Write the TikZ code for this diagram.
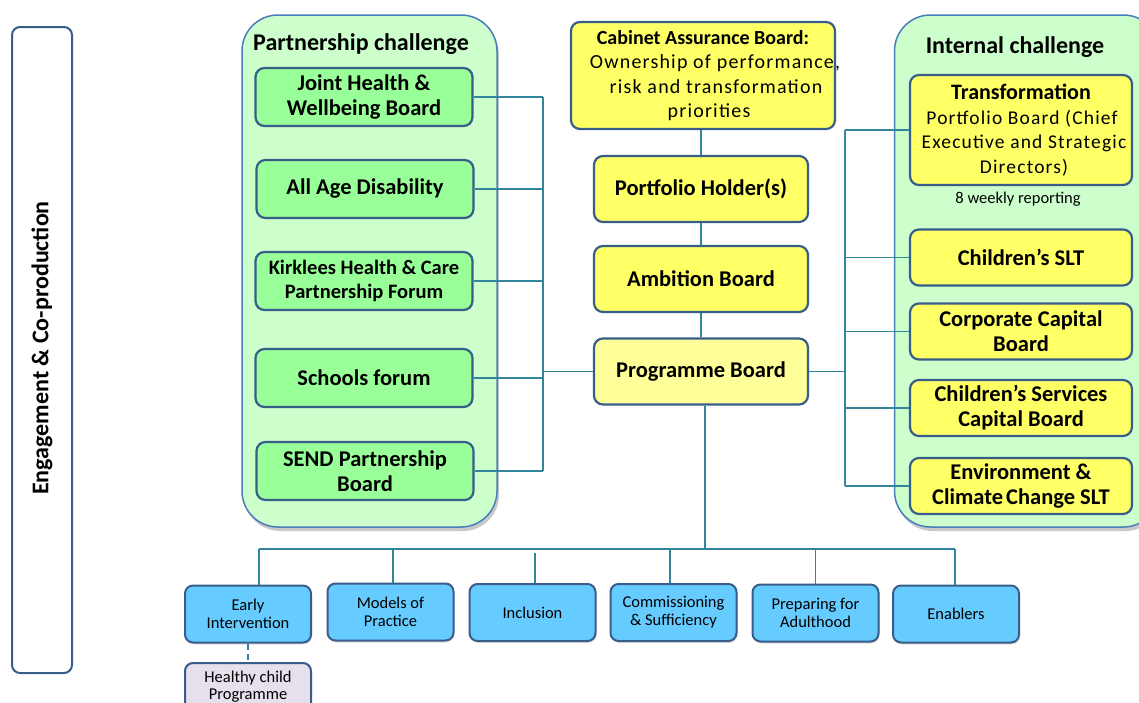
\documentclass[tikz,border=0pt]{standalone}
\usepackage{fontspec}
\setmainfont{Carlito}
\newfontfamily\spc[LetterSpace=6]{Carlito}
\newfontfamily\spcw[LetterSpace=6]{Carlito}
\newcommand\shiftline[2]{\makebox[200pt][c]{\hspace*{#1}#2}}
\usetikzlibrary{shadows}
\definecolor{conn}{RGB}{49,133,156}
\definecolor{bdr}{RGB}{56,93,138}
\definecolor{cbdr}{RGB}{74,126,187}
\definecolor{cfill}{RGB}{204,255,204}
\definecolor{gfill}{RGB}{153,255,153}
\definecolor{yfill}{RGB}{255,255,102}
\definecolor{pfill}{RGB}{255,255,153}
\definecolor{bfill}{RGB}{102,204,255}
\definecolor{lfill}{RGB}{229,224,236}
\tikzset{
  box/.style={draw=bdr, line width=2.2pt, rounded corners=9pt, align=center, inner sep=2pt},
  cont/.style={draw=cbdr, line width=1.5pt, fill=cfill, rounded corners=36pt,
    drop shadow={shadow xshift=2pt, shadow yshift=-4pt, opacity=0.3, fill=black!70}},
  ttl/.style={font=\bfseries\fontsize{24}{28}\selectfont},
  bigbold/.style={font=\bfseries\fontsize{22.5}{25}\selectfont},
  gbox/.style={box, fill=gfill, minimum width=217pt, minimum height=58pt, bigbold},
  ybox/.style={box, fill=yfill, minimum width=214pt, minimum height=66pt, bigbold},
  rbox/.style={box, fill=yfill, minimum width=222pt, minimum height=56pt, bigbold},
  bbox/.style={box, fill=bfill, minimum width=126pt, minimum height=57pt, line width=2pt, rounded corners=8pt,
    font=\fontsize{16.5}{18}\selectfont,
    drop shadow={shadow xshift=1pt, shadow yshift=-2pt, opacity=0.2, fill=black!60}},
  link/.style={draw=conn, line width=1.6pt},
}
\begin{document}
\begin{tikzpicture}[x=1pt,y=-1pt]
\useasboundingbox (0,0) rectangle (1139,702);
\clip (0,0) rectangle (1139,702);

% Engagement column
\node[draw=bdr, line width=2pt, rounded corners=8pt, minimum width=60pt, minimum height=646pt] (engbox) at (42,350) {};
\node[rotate=90, font=\bfseries\fontsize{24}{28}\selectfont] (engtxt) at (42,348) {Engagement \& Co-production};

% containers
\node[cont, minimum width=255pt, minimum height=512pt] (pcont) at (369.5,271) {};
\node[ttl] (ptitle) at (361,44) {Partnership challenge};
\node[cont, minimum width=265pt, minimum height=512pt] (icont) at (1027,271) {};
\node[ttl] (ititle) at (1015,47) {Internal challenge};

% partnership boxes
\node[gbox] (jhw) at (364,97) {Joint Health \&\\Wellbeing Board};
\node[gbox] (aad) at (365,189) {All Age Disability};
\node[gbox, font=\bfseries\fontsize{20.5}{24.5}\selectfont] (khc) at (364,281) {Kirklees Health \& Care\\Partnership Forum};
\node[gbox] (sf) at (364,378) {Schools forum};
\node[gbox] (send) at (365,471) {SEND Partnership\\Board};

% centre column
\node[box, fill=yfill, minimum width=264pt, minimum height=107pt, font=\fontsize{20}{24.2}\selectfont] (cab) at (703,75.5)
  {\textbf{Cabinet Assurance Board:}\\\shiftline{24pt}{\spc Ownership of performance,}\\\shiftline{26pt}{\spc risk and transformation}\\\shiftline{12pt}{\spc priorities}};
\node[ybox] (ph) at (701,189) {Portfolio Holder(s)};
\node[ybox] (amb) at (701,279) {Ambition Board};
\node[ybox, fill=pfill] (prog) at (701,371.5) {Programme Board};

% internal boxes
\node[rbox, minimum height=110pt, font=\fontsize{19.5}{24.5}\selectfont] (trans) at (1021,130)
  {{\bfseries\fontsize{22}{24.5}\selectfont Transformation}\\\shiftline{2pt}{\spcw Portfolio Board (Chief}\\\shiftline{6pt}{\spcw Executive and Strategic}\\\shiftline{6pt}{\spcw Directors)}};
\node[font=\fontsize{16.5}{18}\selectfont] (wk) at (1018,199) {8 weekly reporting};
\node[rbox] (cslt) at (1021,257.5) {Children’s SLT};
\node[rbox] (ccb) at (1021,331.5) {Corporate Capital\\Board};
\node[rbox] (cscb) at (1021,408) {Children’s Services\\Capital Board};
\node[rbox] (env) at (1021,486) {Environment \&\\Climate\kern3pt Change SLT};

% bottom boxes
\node[bbox] (ei) at (248,614) {Early\\Intervention};
\node[bbox] (mop) at (390.5,612) {Models of\\Practice};
\node[bbox] (inc) at (532.5,612.5) {Inclusion};
\node[bbox] (cs) at (673.5,612.5) {Commissioning\\\& Sufficiency};
\node[bbox] (pfa) at (815.5,613) {Preparing for\\Adulthood};
\node[bbox] (enb) at (956,614) {Enablers};
\node[bbox, fill=lfill, minimum height=60pt] (hcp) at (248,693) {};
\node[align=center, font=\fontsize{16.5}{17}\selectfont, inner sep=0pt] (hcptxt) at (248,687) {Healthy child\\Programme};

% connectors: centre chain
\draw[link] (ph.north |- cab.south) -- (ph.north);
\draw[link] (ph.south) -- (amb.north);
\draw[link] (amb.south) -- (prog.north);

% left bracket
\coordinate (lb) at (543,0);
\draw[link] (jhw.east -| lb) -- (send.east -| lb);
\foreach \n in {jhw,aad,khc,sf,send} \draw[link] (\n.east) -- (\n.east -| lb);
\draw[link] (prog.west) -- (prog.west -| lb);

% right bracket
\coordinate (rb) at (845,0);
\draw[link] (trans.west -| rb) -- (env.west -| rb);
\foreach \n in {trans,cslt,ccb,cscb,env} \draw[link] (\n.west -| rb) -- (\n.west);
\draw[link] (prog.east) -- (prog.east -| rb);

% bottom bus
\coordinate (bus) at (0,549);
\draw[link] ([xshift=4pt]prog.south) -- ([xshift=4pt]prog.south |- bus);
\draw[link] ([xshift=11pt]ei.north |- bus) -- ([xshift=-1pt]enb.north |- bus);
\draw[link] ([xshift=11pt]ei.north |- bus) -- ([xshift=11pt]ei.north);
\draw[link] ([xshift=2.5pt]mop.north |- bus) -- ([xshift=2.5pt]mop.north);
\draw[link] ([xshift=2.5pt,yshift=-4pt]inc.north |- bus) -- ([xshift=2.5pt]inc.north);
\draw[link] ([xshift=-3.5pt]cs.north |- bus) -- ([xshift=-3.5pt]cs.north);
\draw[link] (pfa.north |- bus) -- (pfa.north);
\draw[link] ([xshift=-1pt]enb.north |- bus) -- ([xshift=-1pt]enb.north);
\draw[link, dashed, dash pattern=on 6pt off 4pt] (ei.south) -- (hcp.north);
\end{tikzpicture}
\end{document}
